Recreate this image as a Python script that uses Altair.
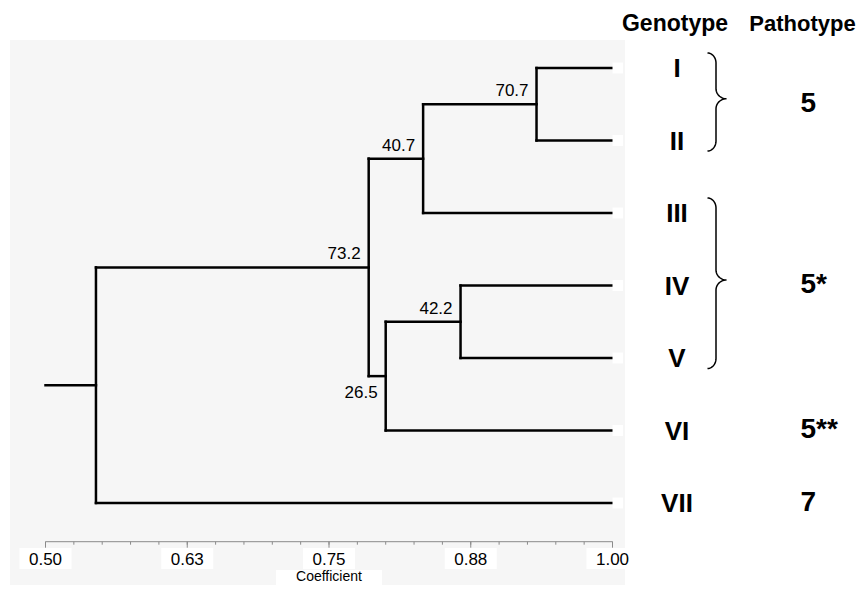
import altair as alt
import numpy as np
import pandas as pd

# ---------------- data ----------------
genotypes = ["I", "II", "III", "IV", "V", "VI", "VII"]
node_ids = ["n1", "n2", "n3", "n4", "n5", "root"]
node_left = ["I", "n1", "IV", "n3", "n2", "n5"]
node_right = ["II", "III", "V", "VI", "n4", "VII"]
node_coef = [0.933, 0.833, 0.866, 0.800, 0.785, 0.5445]
node_support = ["70.7", "40.7", "42.2", "26.5", "73.2", ""]
support_side = ["above", "above", "above", "below", "above", ""]
pathotypes = ["5", "5*", "5**", "7"]
pathotype_members = [["I", "II"], ["III", "IV", "V"], ["VI"], ["VII"]]
tick_values = [0.50, 0.625, 0.75, 0.875, 1.00]
tick_labels = ["0.50", "0.63", "0.75", "0.88", "1.00"]
minor_tick_values = [0.5 + 0.025 * k for k in range(21)]
axis_title = "Coefficient"
root_start = 0.50
leaf_end = 1.00

# ---------------- layout helpers ----------------
PXX = 1134.0   # pixels per coefficient unit
PXY = 72.5     # pixels per leaf step
W, H = 615, 545
XDOM = [0.5 - 35.5 / PXX, 0.5 + 579.5 / PXX]
YDOM = [-28.0 / PXY, 517.0 / PXY]
xs = alt.Scale(domain=XDOM, nice=False, zero=False)
ys = alt.Scale(domain=YDOM, nice=False, zero=False, reverse=True)
FONT = "Liberation Sans"

# ---------------- tree geometry ----------------
pos = {g: (leaf_end, float(i)) for i, g in enumerate(genotypes)}
segs, nodes = [], []
for nid, l, r, c, s, side in zip(node_ids, node_left, node_right, node_coef,
                                 node_support, support_side):
    xl, yl = pos[l]
    xr, yr = pos[r]
    ym = (yl + yr) / 2
    segs.append(dict(x=c, x2=c, y=yl, y2=yr))
    segs.append(dict(x=c, x2=xl, y=yl, y2=yl))
    segs.append(dict(x=c, x2=xr, y=yr, y2=yr))
    pos[nid] = (c, ym)
    if s:
        off = -8.0 if side == "above" else 21.7
        nodes.append(dict(x=c, y=ym + off / PXY, label=s))
rx, ry = pos["root"]
segs.append(dict(x=root_start, x2=rx, y=ry, y2=ry))
seg_df = pd.DataFrame(segs)
node_df = pd.DataFrame(nodes)

leaf_df = pd.DataFrame({"label": genotypes, "y": np.arange(len(genotypes), dtype=float)})
leaf_df["bx"] = leaf_end
leaf_df["bx2"] = leaf_end + 10.5 / PXX
leaf_df["by"] = leaf_df["y"] - 5.5 / PXY
leaf_df["by2"] = leaf_df["y"] + 5.5 / PXY

idx = {g: i for i, g in enumerate(genotypes)}
patho_df = pd.DataFrame({
    "label": pathotypes,
    "y": [np.mean([idx[m] for m in grp]) for grp in pathotype_members],
})

# braces for multi-member groups
brace_rows = []
x0, x1, x2 = 95.0, 103.5, 114.0      # px right of the leaf ends
rr = 10.0 / PXY
t = np.linspace(0, np.pi / 2, 14)
for gi, grp in enumerate(pathotype_members):
    if len(grp) < 2:
        continue
    lo = min(idx[m] for m in grp)
    hi = max(idx[m] for m in grp)
    ytop = lo - 15.0 / PXY
    ybot = hi + 10.5 / PXY
    ytip = (lo + hi) / 2 - 5.5 / PXY
    us, vs = [], []
    us += list(x0 + (x1 - x0) * np.sin(t)); vs += list(ytop + rr * (1 - np.cos(t)))
    us += list(x2 - (x2 - x1) * np.cos(t)); vs += list(ytip - rr + rr * np.sin(t))
    us += list((x2 - (x2 - x1) * np.cos(t))[::-1]); vs += list((ytip + rr - rr * np.sin(t))[::-1])
    us += list((x0 + (x1 - x0) * np.sin(t))[::-1]); vs += list((ybot - rr * (1 - np.cos(t)))[::-1])
    for k, (u, v) in enumerate(zip(us, vs)):
        brace_rows.append(dict(g=gi, o=k, x=leaf_end + u / PXX, y=v))
brace_df = pd.DataFrame(brace_rows)

tick_df = pd.DataFrame({"x": tick_values, "label": tick_labels})
tick_df["bx"] = tick_df["x"] - 26 / PXX
tick_df["bx2"] = tick_df["x"] + 26 / PXX
minor_df = pd.DataFrame({"x": minor_tick_values})
axis_df = pd.DataFrame({"x": [tick_values[0]], "x2": [tick_values[-1]]})
title_df = pd.DataFrame({"x": [0.75], "label": [axis_title]})
title_df["bx"] = title_df["x"] - 53 / PXX
title_df["bx2"] = title_df["x"] + 53 / PXX

AX_Y = 501.7

# ---------------- layers ----------------
lines = alt.Chart(seg_df).mark_rule(color="black", strokeWidth=2.5, strokeCap="square").encode(
    x=alt.X("x:Q", scale=xs, axis=None), x2="x2:Q",
    y=alt.Y("y:Q", scale=ys, axis=None), y2="y2:Q")

leaf_boxes = alt.Chart(leaf_df).mark_rect(color="white").encode(
    x=alt.X("bx:Q", scale=xs), x2="bx2:Q", y=alt.Y("by:Q", scale=ys), y2="by2:Q")

support = alt.Chart(node_df).mark_text(align="right", baseline="alphabetic", dx=-8,
                                       fontSize=17, font=FONT, color="black").encode(
    x=alt.X("x:Q", scale=xs), y=alt.Y("y:Q", scale=ys), text="label:N")

geno = alt.Chart(leaf_df).mark_text(align="center", baseline="alphabetic", dy=9, fontSize=26,
                                    fontWeight="bold", font=FONT, color="black").encode(
    x=alt.value(667), y=alt.Y("y:Q", scale=ys), text="label:N")

patho = alt.Chart(patho_df).mark_text(align="left", baseline="alphabetic", dy=7.5, fontSize=28,
                                      fontWeight="bold", font=FONT, color="black").encode(
    x=alt.value(790.5), y=alt.Y("y:Q", scale=ys), text="label:N")

braces = alt.Chart(brace_df).mark_line(color="black", strokeWidth=1.5).encode(
    x=alt.X("x:Q", scale=xs), y=alt.Y("y:Q", scale=ys), detail="g:N", order="o:Q")

headers_df = pd.DataFrame({"label": ["Genotype", "Pathotype"], "px": [665, 792.5],
                           "fs": [23, 22]})
headers = alt.Chart(headers_df).mark_text(align="center", baseline="alphabetic",
                                          fontWeight="bold", font=FONT, color="black").encode(
    x=alt.X("px:Q", scale=None), y=alt.value(-9.3), text="label:N",
    size=alt.Size("fs:Q", scale=None, legend=None))

axis_line = alt.Chart(axis_df).mark_rule(color="#8a8a8a", strokeWidth=1).encode(
    x=alt.X("x:Q", scale=xs), x2="x2:Q", y=alt.value(AX_Y))
minor = alt.Chart(minor_df).mark_rule(color="#8a8a8a", strokeWidth=1).encode(
    x=alt.X("x:Q", scale=xs), y=alt.value(AX_Y), y2=alt.value(AX_Y + 3))
major = alt.Chart(tick_df).mark_rule(color="#8a8a8a", strokeWidth=1).encode(
    x=alt.X("x:Q", scale=xs), y=alt.value(AX_Y), y2=alt.value(AX_Y + 6))
tick_boxes = alt.Chart(tick_df).mark_rect(color="white").encode(
    x=alt.X("bx:Q", scale=xs), x2="bx2:Q", y=alt.value(508), y2=alt.value(529))
tick_text = alt.Chart(tick_df).mark_text(align="center", baseline="alphabetic", fontSize=17,
                                         font=FONT, color="black").encode(
    x=alt.X("x:Q", scale=xs), y=alt.value(525), text="label:N")
title_box = alt.Chart(title_df).mark_rect(color="white").encode(
    x=alt.X("bx:Q", scale=xs), x2="bx2:Q", y=alt.value(530), y2=alt.value(545))
title_text = alt.Chart(title_df).mark_text(align="center", baseline="alphabetic", fontSize=14,
                                           font=FONT, color="black").encode(
    x=alt.X("x:Q", scale=xs), y=alt.value(540.5), text="label:N")

chart = alt.layer(
    lines, leaf_boxes, support, axis_line, minor, major, tick_boxes, tick_text,
    title_box, title_text, geno, patho, braces, headers,
).properties(
    width=W, height=H,
    autosize=alt.AutoSizeParams(type="none"),
    padding={"left": 2, "top": 32, "right": 232, "bottom": 0},
    background="white",
).configure_view(fill="#f6f6f6", strokeWidth=0)

chart.save("out.html", embed_options={"renderer": "svg", "actions": False})
